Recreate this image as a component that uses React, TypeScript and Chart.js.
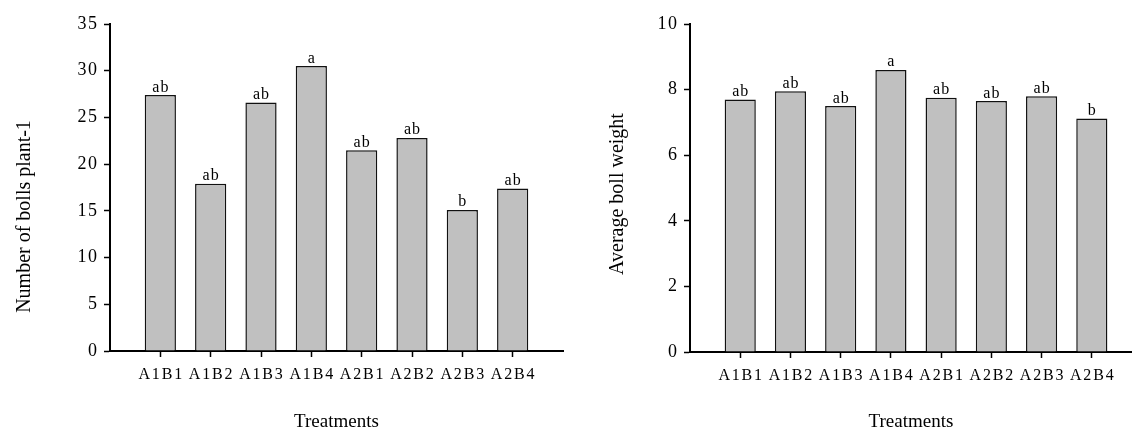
import React, { useEffect, useRef } from "react";
import { Chart, registerables } from "chart.js";

Chart.register(...registerables);

const categories = ["A1B1", "A1B2", "A1B3", "A1B4", "A2B1", "A2B2", "A2B3", "A2B4"];
const bollsValues = [27.4, 17.9, 26.6, 30.5, 21.5, 22.8, 15.1, 17.4];
const bollsLetters = ["ab", "ab", "ab", "a", "ab", "ab", "b", "ab"];
const weightValues = [7.7, 7.95, 7.5, 8.6, 7.75, 7.65, 7.8, 7.12];
const weightLetters = ["ab", "ab", "ab", "a", "ab", "ab", "ab", "b"];
const bollsTicks = [0, 5, 10, 15, 20, 25, 30, 35];
const weightTicks = [0, 2, 4, 6, 8, 10];

const FAMILY = '"Liberation Serif", "Times New Roman", serif';

const lettersPlugin = {
  id: "letters",
  afterDatasetsDraw(chart: any, _args: any, opts: any) {
    const meta = chart.getDatasetMeta(0);
    const ctx = chart.ctx;
    ctx.save();
    ctx.font = `${opts.size}px ${FAMILY}`;
    (ctx as any).letterSpacing = `${opts.spacing}px`;
    ctx.fillStyle = "#000";
    ctx.textAlign = "center";
    ctx.textBaseline = "alphabetic";
    meta.data.forEach((bar: any, i: number) => {
      ctx.fillText(opts.labels[i], bar.x + opts.spacing / 2, bar.y - opts.gap);
    });
    (ctx as any).letterSpacing = "0px";
    ctx.restore();
  },
};

const yTitlePlugin = {
  id: "yTitle",
  afterDraw(chart: any, _args: any, opts: any) {
    const ctx = chart.ctx;
    const area = chart.chartArea;
    ctx.save();
    ctx.translate(opts.x, (area.top + area.bottom) / 2 + opts.dy);
    ctx.rotate(-Math.PI / 2);
    ctx.font = `${opts.size}px ${FAMILY}`;
    ctx.fillStyle = "#000";
    ctx.textAlign = "center";
    ctx.textBaseline = "middle";
    ctx.fillText(opts.text, 0, 0);
    ctx.restore();
  },
};

// widen tick-label glyph spacing to match the reference's typesetting
const labelSpacingPlugin = {
  id: "labelSpacing",
  afterLayout(chart: any, _args: any, opts: any) {
    Object.keys(opts.scales || {}).forEach((id) => {
      const scale = chart.scales[id];
      if (!scale || scale.__spaced) return;
      const orig = scale.drawLabels.bind(scale);
      const sp = opts.scales[id];
      scale.drawLabels = (area: any) => {
        const ctx = chart.ctx;
        (ctx as any).letterSpacing = `${sp}px`;
        ctx.save();
        ctx.translate(id === "x" ? sp / 2 : sp, 0);
        orig(area);
        ctx.restore();
        (ctx as any).letterSpacing = "0px";
      };
      scale.__spaced = true;
    });
  },
};

type Cfg = {
  values: number[];
  letters: string[];
  yTicks: number[];
  xMax: number;
  yTitle: string;
  titleX: number;
  titleDy: number;
  axisLeft: number;
  bottomH: number;
  topPad: number;
  rightPad: number;
};

function BarPanel({ cfg, width, height }: { cfg: Cfg; width: number; height: number }) {
  const ref = useRef<HTMLCanvasElement>(null);
  useEffect(() => {
    if (!ref.current) return;
    const yMin = cfg.yTicks[0];
    const yMax = cfg.yTicks[cfg.yTicks.length - 1];
    const chart = new Chart(ref.current, {
      type: "bar",
      data: {
        datasets: [
          {
            data: cfg.values.map((v, i) => ({ x: i + 1, y: v })),
            backgroundColor: "#c0c0c0",
            borderColor: "#111",
            borderWidth: 1.5,
            categoryPercentage: 1,
            barPercentage: 0.62,
          },
        ],
      },
      options: {
        responsive: false,
        animation: false,
        devicePixelRatio: 1,
        layout: { padding: { top: cfg.topPad, right: cfg.rightPad, left: 0, bottom: 0 } },
        plugins: {
          legend: { display: false },
          tooltip: { enabled: false },
          letters: { labels: cfg.letters, size: 16, gap: 3.5, spacing: 1 },
          yTitle: { text: cfg.yTitle, size: 20, x: cfg.titleX, dy: cfg.titleDy },
          labelSpacing: { scales: { x: 1.8, y: 1.5 } },
        } as any,
        scales: {
          x: {
            type: "linear",
            offset: false,
            min: 0,
            max: cfg.xMax,
            afterBuildTicks: (scale: any) => {
              scale.ticks = categories.map((_, i) => ({ value: i + 1 }));
            },
            afterFit: (scale: any) => {
              scale.height = cfg.bottomH;
            },
            ticks: {
              autoSkip: false,
              maxRotation: 0,
              padding: 8,
              color: "#000",
              font: { family: FAMILY, size: 16 },
              callback: (v: any) => categories[Number(v) - 1] ?? "",
            },
            grid: {
              display: true,
              offset: false,
              drawOnChartArea: false,
              drawTicks: true,
              tickLength: 6,
              tickColor: "#000",
              tickWidth: 1.5,
            },
            border: { display: true, color: "#000", width: 2 },
            title: {
              display: true,
              text: "Treatments",
              color: "#000",
              font: { family: FAMILY, size: 19, lineHeight: 1 },
              padding: { top: 0, bottom: -1 },
            },
          },
          y: {
            type: "linear",
            min: yMin,
            max: yMax,
            afterBuildTicks: (scale: any) => {
              scale.ticks = cfg.yTicks.map((v) => ({ value: v }));
            },
            afterFit: (scale: any) => {
              scale.width = cfg.axisLeft;
            },
            ticks: {
              padding: 7,
              color: "#000",
              font: { family: FAMILY, size: 18 },
            },
            grid: {
              display: true,
              drawOnChartArea: false,
              drawTicks: true,
              tickLength: 6,
              tickColor: "#000",
              tickWidth: 1.5,
            },
            border: { display: true, color: "#000", width: 2 },
          },
        },
      },
      plugins: [labelSpacingPlugin, lettersPlugin, yTitlePlugin],
    });
    return () => chart.destroy();
  }, [cfg]);
  return <canvas ref={ref} width={width} height={height} style={{ display: "block" }} />;
}

const leftCfg: Cfg = {
  values: bollsValues,
  letters: bollsLetters,
  yTicks: bollsTicks,
  xMax: 9,
  yTitle: "Number of bolls plant-1",
  titleX: 25,
  titleDy: 29,
  axisLeft: 110,
  bottomH: 80,
  topPad: 24,
  rightPad: 3,
};

const rightCfg: Cfg = {
  values: weightValues,
  letters: weightLetters,
  yTicks: weightTicks,
  xMax: 8.8,
  yTitle: "Average boll weight",
  titleX: 52,
  titleDy: 6,
  axisLeft: 124,
  bottomH: 79,
  topPad: 24,
  rightPad: 0,
};

export default function App() {
  return (
    <div style={{ position: "absolute", left: 0, top: 0, width: 1132, height: 431, background: "#fff" }}>
      <div style={{ position: "absolute", left: 0, top: 0 }}>
        <BarPanel cfg={leftCfg} width={566} height={431} />
      </div>
      <div style={{ position: "absolute", left: 566, top: 0 }}>
        <BarPanel cfg={rightCfg} width={566} height={431} />
      </div>
    </div>
  );
}
